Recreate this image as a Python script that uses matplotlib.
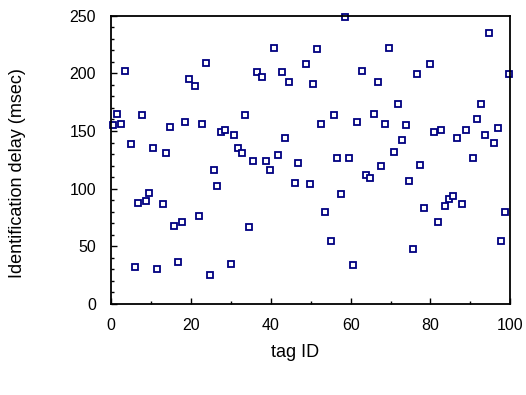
import matplotlib.pyplot as plt
from matplotlib.ticker import MultipleLocator

plt.rcParams['font.family'] = ['Liberation Sans', 'DejaVu Sans']

# tag IDs and identification delay (msec)
tag_id = [0.4, 1.5, 2.5, 3.4, 4.9, 5.9, 6.7, 7.6, 8.6, 9.5,
          10.5, 11.5, 12.9, 13.8, 14.7, 15.8, 16.6, 17.6, 18.5, 19.5,
          21.0, 21.9, 22.8, 23.8, 24.7, 25.7, 26.6, 27.4, 28.5, 30.1,
          30.8, 31.7, 32.7, 33.5, 34.6, 35.6, 36.5, 37.9, 38.8, 39.8,
          40.8, 41.7, 42.7, 43.6, 44.5, 46.0, 46.9, 48.7, 49.7, 50.5,
          51.6, 52.6, 53.5, 55.0, 55.8, 56.7, 57.7, 58.6, 59.6, 60.6,
          61.5, 62.9, 63.8, 64.8, 65.8, 66.8, 67.5, 68.6, 69.6, 70.9,
          71.9, 72.9, 73.8, 74.7, 75.6, 76.6, 77.5, 78.4, 79.9, 80.8,
          81.8, 82.7, 83.7, 84.6, 85.6, 86.6, 87.9, 89.0, 90.7, 91.7,
          92.7, 93.7, 94.6, 96.0, 96.9, 97.8, 98.8, 99.7]
delay = [155, 165, 156, 202, 139, 32, 88, 164, 89, 96.5,
         135, 30.6, 86.5, 130.7, 153.5, 67.6, 36.4, 70.8, 157.8, 195,
         189, 76.3, 156.4, 209, 24.9, 116.5, 102.3, 149, 151, 35,
         146.3, 135.3, 130.7, 163.7, 66.5, 123.7, 201, 196.6, 123.7, 116.5,
         222.3, 129.5, 201, 143.7, 192.3, 105.2, 122.3, 208, 103.8, 190.8,
         221, 156.4, 79.5, 55, 163.7, 126.6, 95, 249, 126.6, 33.5,
         157.8, 202.4, 112, 109.3, 165, 192.3, 119.4, 156.4, 222.3, 132,
         173.5, 142.2, 155, 106.4, 47.7, 199.5, 120.8, 83.5, 208, 149,
         70.8, 151, 85, 90.8, 93.7, 143.7, 86.5, 151, 126.6, 160.7,
         173.5, 146.6, 235, 139.4, 152.4, 55, 79.5, 199.5]

fig = plt.figure(figsize=(5.26, 3.95), dpi=100)
ax = fig.add_axes([0.2116, 0.2304, 0.7584, 0.7298])

ax.plot(tag_id, delay, linestyle='none', marker='s', markersize=4.5,
        markerfacecolor='white', markeredgecolor='#000080', markeredgewidth=1.3,
        clip_on=False)

ax.set_xlim(0, 100)
ax.set_ylim(0, 250)
ax.xaxis.set_major_locator(MultipleLocator(20))
ax.xaxis.set_minor_locator(MultipleLocator(10))
ax.yaxis.set_major_locator(MultipleLocator(50))
ax.yaxis.set_minor_locator(MultipleLocator(10))

ax.tick_params(which='both', direction='in', top=False, right=False, labelsize=11.5)
ax.tick_params(which='major', length=4, width=1)
ax.tick_params(which='minor', length=2.5, width=1)
ax.tick_params(axis='y', which='major', pad=11)
ax.tick_params(axis='x', which='major', pad=10)

for side in ax.spines.values():
    side.set_linewidth(1.3)
    side.set_color('black')

ax.set_xlabel('tag ID', fontsize=13, va='center')
ax.set_ylabel('Identification delay (msec)', fontsize=13, va='center')
ax.xaxis.set_label_coords(0.46, -0.17)
ax.yaxis.set_label_coords(-0.236, 0.455)

fig.savefig('out.png', dpi=100)
